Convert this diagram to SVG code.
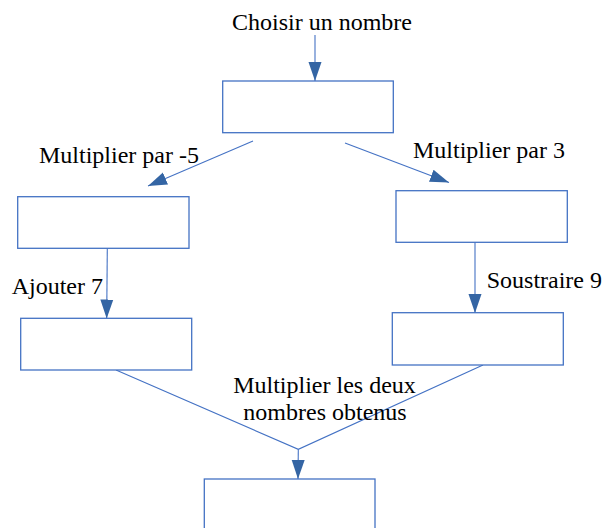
<svg xmlns="http://www.w3.org/2000/svg" width="605" height="528" viewBox="0 0 605 528">
<style>
.box{fill:#ffffff;stroke:#4472c4;stroke-width:1.3}
.con{fill:none;stroke:#4472c4;stroke-width:1.1}
.lbl{font-size:24px;fill:#000000}
</style>
<defs>
<marker id="ah" markerUnits="userSpaceOnUse" markerWidth="20" markerHeight="14" refX="19" refY="6.5" orient="auto" viewBox="0 0 20 13">
<path d="M0,0 L19,6.5 L0,13 Z" fill="#3465a4"/>
</marker>
</defs>
<rect width="605" height="528" fill="#ffffff"/>
<g id="connectors">
<line class="con" x1="315" y1="35" x2="315" y2="81" marker-end="url(#ah)"/>
<line class="con" x1="253" y1="141" x2="148" y2="186" marker-end="url(#ah)"/>
<line class="con" x1="345" y1="143" x2="449" y2="182.5" marker-end="url(#ah)"/>
<line class="con" x1="107.3" y1="248" x2="106.7" y2="318.5" marker-end="url(#ah)"/>
<line class="con" x1="475" y1="242" x2="475" y2="313" marker-end="url(#ah)"/>
<polyline class="con" points="116,370 298.3,449.3 483,365"/>
<line class="con" x1="298.3" y1="449.3" x2="298" y2="479" marker-end="url(#ah)"/>
</g>
<g id="n_start">
<text class="lbl" font-family="'Liberation Serif', serif" x="232" y="30">Choisir un nombre</text>
</g>
<g id="n_top">
<rect class="box" x="222.7" y="81" width="170.6" height="51.7"/>
</g>
<g id="n_left1">
<text class="lbl" font-family="'Liberation Serif', serif" x="39" y="163">Multiplier par -5</text>
<rect class="box" x="17.7" y="196.7" width="171.3" height="51.6"/>
</g>
<g id="n_right1">
<text class="lbl" font-family="'Liberation Serif', serif" x="413" y="158.3">Multiplier par 3</text>
<rect class="box" x="396" y="190.7" width="171.3" height="51.6"/>
</g>
<g id="n_left2">
<text class="lbl" font-family="'Liberation Serif', serif" x="11.7" y="294">Ajouter 7</text>
<rect class="box" x="20.7" y="318.3" width="171" height="51.7"/>
</g>
<g id="n_right2">
<text class="lbl" font-family="'Liberation Serif', serif" x="486.7" y="288.3">Soustraire 9</text>
<rect class="box" x="392.3" y="312.7" width="171" height="52.3"/>
</g>
<g id="n_result">
<text class="lbl" font-family="'Liberation Serif', serif" x="324.5" y="393.3" text-anchor="middle">Multiplier les deux</text>
<text class="lbl" font-family="'Liberation Serif', serif" x="325" y="420" text-anchor="middle">nombres obtenus</text>
<rect class="box" x="204.3" y="479" width="170.7" height="52"/>
</g>
</svg>
